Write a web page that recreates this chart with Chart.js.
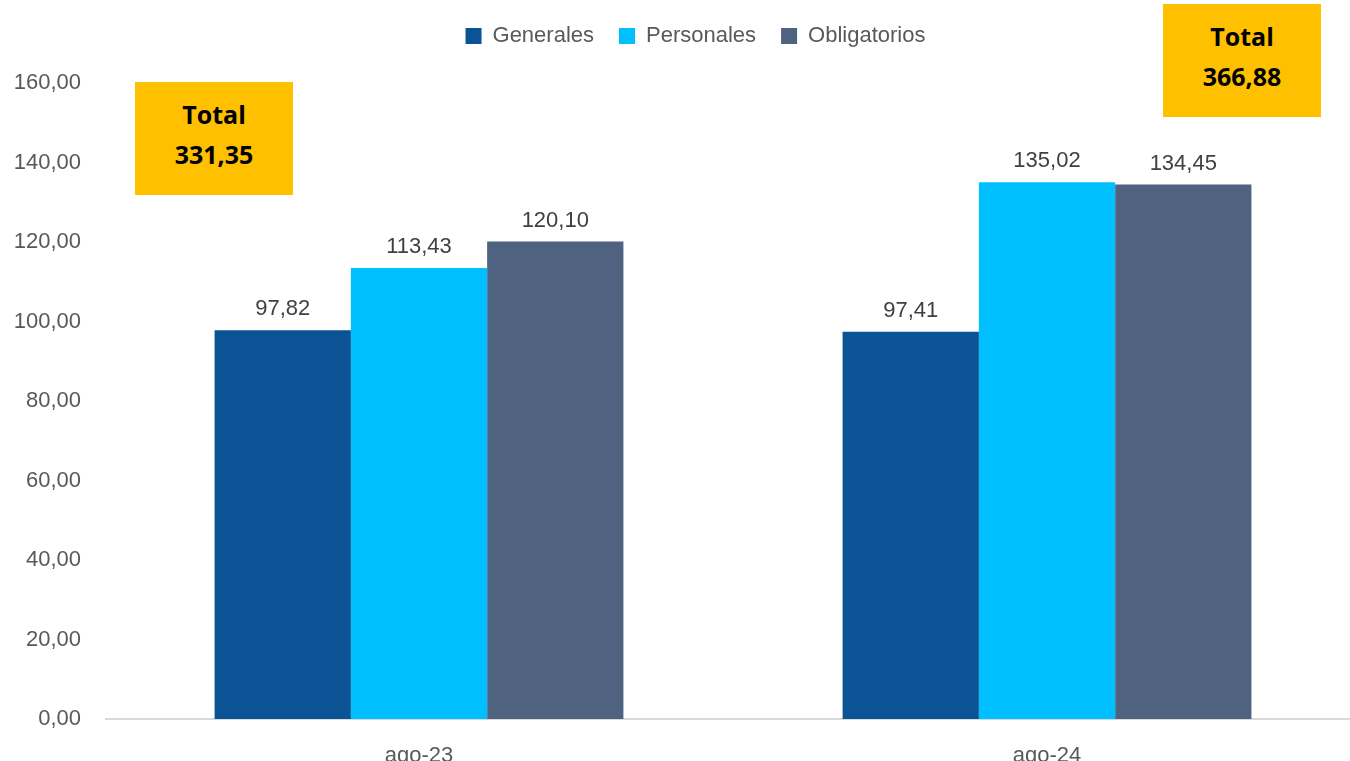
<!DOCTYPE html>
<html>
<head>
<meta charset="utf-8">
<script src="https://cdn.jsdelivr.net/npm/chart.js@4.4.1/dist/chart.umd.min.js"></script>
<style>
    body { margin: 0; overflow: hidden; background: #fff; width: 1350px; height: 761px; position: relative; }
    #wrap { position: absolute; left: 0; top: 0; }
    .total {
        position: absolute; width: 158px; height: 113px; background: #FFC000;
        font-family: "Open Sans", "Liberation Sans", sans-serif; font-weight: bold; font-size: 25px;
        color: #000; text-align: center; line-height: 40px; box-sizing: border-box; padding-top: 12px;
    }
</style>
</head>
<body>
<div id="wrap"><canvas id="chart" width="1380" height="761"></canvas></div>
<div class="total" id="total-0" style="left:135px; top:82px;"></div>
<div class="total" id="total-1" style="left:1163px; top:4px;"></div>
<script>
// Chart data
const categories = ['ago-23', 'ago-24'];
const seriesNames = ['Generales', 'Personales', 'Obligatorios'];
const generales = [97.82, 97.41];
const personales = [113.43, 135.02];
const obligatorios = [120.10, 134.45];
const yTicks = [0, 20, 40, 60, 80, 100, 120, 140, 160];

const colors = ['#0B5394', '#00BFFF', '#4F6280'];
const fontFamily = '"Liberation Sans", Arial, sans-serif';

const fmt = v => v.toFixed(2).replace('.', ',');

// Totals boxes
[0, 1].forEach(i => {
    const sum = generales[i] + personales[i] + obligatorios[i];
    document.getElementById('total-' + i).innerHTML = 'Total<br>' + fmt(sum);
});

// Value labels above bars
const valueLabels = {
    id: 'valueLabels',
    afterDatasetsDraw: (chart) => {
        const ctx = chart.ctx;
        ctx.save();
        ctx.font = '22px ' + fontFamily;
        ctx.fillStyle = '#404040';
        ctx.textAlign = 'center';
        ctx.textBaseline = 'middle';
        chart.data.datasets.forEach((ds, di) => {
            chart.getDatasetMeta(di).data.forEach((bar, i) => {
                ctx.fillText(fmt(ds.data[i]), bar.x, bar.y - 21);
            });
        });
        ctx.restore();
    }
};

// Baseline running from the left edge of the plot across the canvas
const baseline = {
    id: 'baseline',
    beforeDatasetsDraw: (chart) => {
        const ctx = chart.ctx;
        const y = chart.scales.y.getPixelForValue(0);
        ctx.save();
        ctx.strokeStyle = '#D9D9D9';
        ctx.lineWidth = 2;
        ctx.beginPath();
        ctx.moveTo(chart.chartArea.left, y);
        ctx.lineTo(chart.width, y);
        ctx.stroke();
        ctx.restore();
    }
};

// Extra room under the legend, and nudge it right a bit
const legendGap = {
    id: 'legendGap',
    beforeInit: (chart) => {
        const origFit = chart.legend.fit;
        chart.legend.fit = function () {
            origFit.bind(chart.legend)();
            this.height += 26;
        };
    },
    afterLayout: (chart) => {
        chart.legend.left += 15;
        chart.legend.right += 15;
    }
};

new Chart(document.getElementById('chart'), {
    type: 'bar',
    data: {
        labels: categories,
        datasets: [generales, personales, obligatorios].map((d, i) => ({
            label: seriesNames[i],
            data: d,
            backgroundColor: colors[i],
            borderWidth: 0,
            categoryPercentage: 0.651,
            barPercentage: 1
        }))
    },
    options: {
        responsive: false,
        devicePixelRatio: 1,
        animation: false,
        layout: { padding: { top: 0, left: 0, right: 19, bottom: 0 } },
        plugins: {
            legend: {
                position: 'top',
                labels: {
                    font: { family: fontFamily, size: 22 },
                    color: '#595959',
                    boxWidth: 16,
                    boxHeight: 16,
                    padding: 25
                }
            },
            tooltip: { enabled: false }
        },
        scales: {
            y: {
                min: 0,
                max: 160,
                afterBuildTicks: (scale) => { scale.ticks = yTicks.map(v => ({ value: v })); },
                afterFit: (scale) => { scale.width = 105; },
                grid: { display: false, drawTicks: false },
                border: { display: false },
                ticks: {
                    padding: 24,
                    color: '#595959',
                    font: { family: fontFamily, size: 22 },
                    callback: v => fmt(v)
                }
            },
            x: {
                afterFit: (scale) => { scale.height = 42; },
                grid: { display: false, drawTicks: false },
                border: { display: false },
                ticks: {
                    padding: 24,
                    color: '#595959',
                    font: { family: fontFamily, size: 22 }
                }
            }
        }
    },
    plugins: [baseline, valueLabels, legendGap]
});
</script>
</body>
</html>
